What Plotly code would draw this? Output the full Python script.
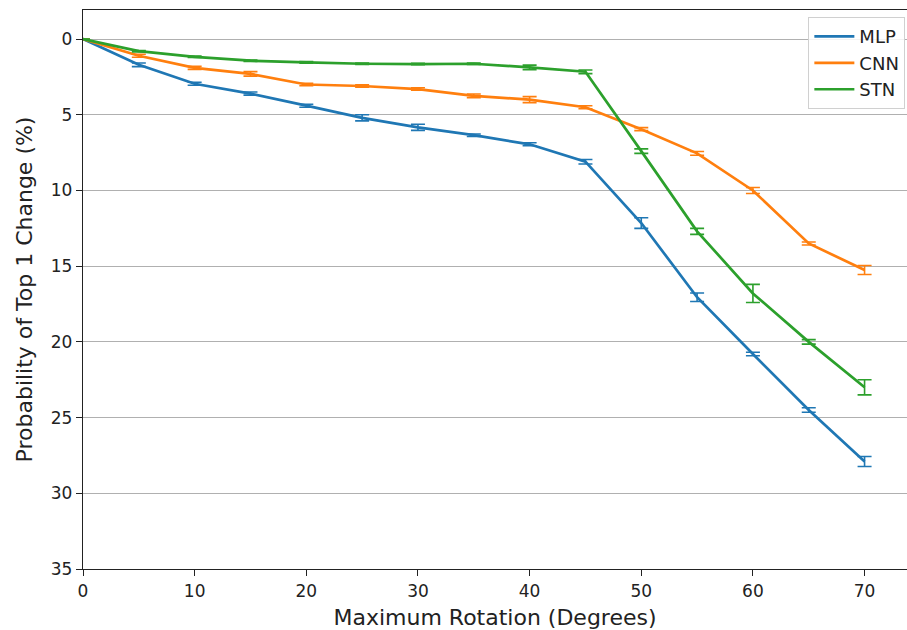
import plotly.graph_objects as go

rotation = [0, 5, 10, 15, 20, 25, 30, 35, 40, 45, 50, 55, 60, 65, 70]

mlp = [0, 1.7, 2.95, 3.6, 4.4, 5.2, 5.83, 6.35, 6.95, 8.1, 12.15, 17.05, 20.8, 24.5, 27.9]
mlp_err = [0, 0.12, 0.1, 0.1, 0.1, 0.2, 0.2, 0.08, 0.1, 0.15, 0.35, 0.28, 0.12, 0.15, 0.33]

cnn = [0, 1.1, 1.9, 2.3, 3.0, 3.1, 3.3, 3.75, 4.0, 4.5, 5.95, 7.55, 10.0, 13.5, 15.25]
cnn_err = [0, 0.1, 0.1, 0.15, 0.08, 0.08, 0.08, 0.12, 0.2, 0.1, 0.1, 0.12, 0.2, 0.1, 0.3]

stn = [0, 0.8, 1.17, 1.43, 1.54, 1.63, 1.65, 1.63, 1.87, 2.16, 7.4, 12.7, 16.8, 20.0, 23.0]
stn_err = [0, 0.05, 0.05, 0.05, 0.05, 0.05, 0.05, 0.05, 0.15, 0.12, 0.15, 0.2, 0.6, 0.15, 0.5]

y_ticks = [0, 5, 10, 15, 20, 25, 30, 35]
x_ticks = [0, 10, 20, 30, 40, 50, 60, 70]

series = [
    ("MLP", mlp, mlp_err, "#1f77b4"),
    ("CNN", cnn, cnn_err, "#ff7f0e"),
    ("STN", stn, stn_err, "#2ca02c"),
]

fig = go.Figure()
for name, vals, errs, color in series:
    fig.add_trace(go.Scatter(
        x=rotation, y=vals, name=name, mode="lines",
        line=dict(color=color, width=2.7),
        error_y=dict(type="data", array=errs, visible=True,
                     color=color, thickness=1.6, width=7),
    ))

font_family = "DejaVu Sans"
fig.update_layout(
    width=907, height=630,
    margin=dict(l=83, r=0, t=10, b=61),
    paper_bgcolor="white", plot_bgcolor="white",
    font=dict(family=font_family, size=18, color="#222"),
    showlegend=True,
    legend=dict(x=0.998, xanchor="right", y=0.987, yanchor="top",
                bordercolor="#d0d0d0", borderwidth=1, bgcolor="rgba(255,255,255,0.85)",
                font=dict(size=18, color="#222"), tracegroupgap=0,
                itemwidth=40),
    xaxis=dict(
        range=[0, 73.8], tickvals=x_ticks, ticktext=[str(v) for v in x_ticks],
        showgrid=False, zeroline=False,
        showline=True, linecolor="#222", linewidth=1.4, mirror=True,
        ticks="outside", ticklen=6, tickwidth=1.4, tickcolor="#222",
        tickfont=dict(size=17),
        title=dict(text="Maximum Rotation (Degrees)", font=dict(size=22), standoff=10),
    ),
    yaxis=dict(
        range=[35, -1.92], tickvals=y_ticks, ticktext=[str(v) for v in y_ticks],
        showgrid=True, gridcolor="#b0b0b0", gridwidth=1.4, zeroline=False,
        showline=True, linecolor="#222", linewidth=1.4, mirror=False,
        ticks="outside", ticklen=6, tickwidth=1.4, tickcolor="#222",
        tickfont=dict(size=17),
        title=dict(text="Probability of Top 1 Change (%)", font=dict(size=22), standoff=12),
    ),
)

fig.write_html("out.html")
